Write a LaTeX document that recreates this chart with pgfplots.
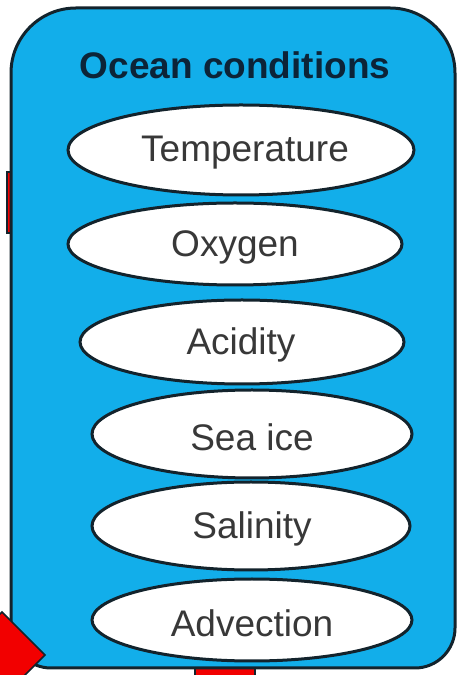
\documentclass[border=0pt]{standalone}
\usepackage{pgfplots}
\pgfplotsset{compat=1.18}
\usepackage{fontspec}
\setmainfont{Liberation Sans}
\definecolor{oceanblue}{HTML}{12AEEA}
\definecolor{edge}{HTML}{13232C}
\definecolor{titlecol}{HTML}{0C2438}
\definecolor{labcol}{HTML}{383838}
\definecolor{redbit}{HTML}{F20000}
\begin{document}
\begin{tikzpicture}
\begin{axis}[
  width=459pt, height=675pt, scale only axis,
  xmin=0, xmax=459, ymin=0, ymax=675,
  hide axis, clip=true,
]
% background
\fill[white] (axis cs:0,0) rectangle (axis cs:459,675);
% red connector bits (behind)
\filldraw[fill=redbit, draw=edge, line width=1.5pt] (axis cs:7,442) rectangle (axis cs:14,503);
\filldraw[fill=redbit, draw=edge, line width=1.5pt] (axis cs:195,-5) rectangle (axis cs:255,13);
% main rounded box
\filldraw[fill=oceanblue, draw=edge, line width=3pt]
  (axis cs:11,47) -- (axis cs:11,602) arc[start angle=180, end angle=90, radius=65pt]
  -- (axis cs:390,667) arc[start angle=90, end angle=0, radius=65pt]
  -- (axis cs:455,47) arc[start angle=0, end angle=-90, radius=40pt]
  -- (axis cs:51,7) arc[start angle=270, end angle=180, radius=40pt] -- cycle;
% red diamond bottom-left
\filldraw[fill=redbit, draw=edge, line width=1.5pt]
  (axis cs:2,63) -- (axis cs:45,20) -- (axis cs:2,-23) -- (axis cs:-41,20) -- cycle;
% title
\node[font=\fontsize{37}{44}\selectfont\bfseries, text=titlecol] at (axis cs:235,610) {Ocean conditions};
% ellipses
\filldraw[fill=white, draw=edge, line width=3pt] (axis cs:241,525) ellipse [x radius=173pt, y radius=45pt];
\filldraw[fill=white, draw=edge, line width=3pt] (axis cs:235,431) ellipse [x radius=167pt, y radius=41pt];
\filldraw[fill=white, draw=edge, line width=3pt] (axis cs:242,333) ellipse [x radius=162pt, y radius=42pt];
\filldraw[fill=white, draw=edge, line width=3pt] (axis cs:252,241) ellipse [x radius=160pt, y radius=44pt];
\filldraw[fill=white, draw=edge, line width=3pt] (axis cs:251,149) ellipse [x radius=159pt, y radius=44pt];
\filldraw[fill=white, draw=edge, line width=3pt] (axis cs:252,55) ellipse [x radius=160pt, y radius=41pt];
% labels
\node[font=\fontsize{37}{44}\selectfont, text=labcol] at (axis cs:245,522) {Temperature};
\node[font=\fontsize{37}{44}\selectfont, text=labcol] at (axis cs:235,428) {Oxygen};
\node[font=\fontsize{37}{44}\selectfont, text=labcol] at (axis cs:241,330) {Acidity};
\node[font=\fontsize{37}{44}\selectfont, text=labcol] at (axis cs:252,238) {Sea ice};
\node[font=\fontsize{37}{44}\selectfont, text=labcol] at (axis cs:252,146) {Salinity};
\node[font=\fontsize{37}{44}\selectfont, text=labcol] at (axis cs:252,52) {Advection};
\end{axis}
\end{tikzpicture}
\end{document}
